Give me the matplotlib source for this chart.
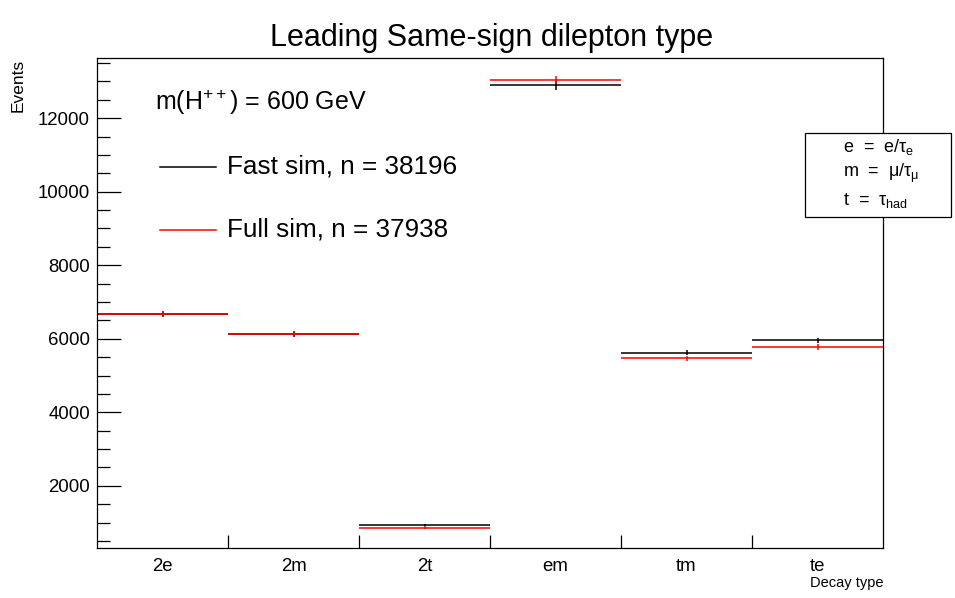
import numpy as np
import matplotlib
matplotlib.use("Agg")
import matplotlib.pyplot as plt
from matplotlib.patches import Rectangle
from matplotlib.ticker import MultipleLocator

plt.rcParams['font.family'] = ['Liberation Sans', 'DejaVu Sans']
plt.rcParams['mathtext.fontset'] = 'custom'
plt.rcParams['mathtext.rm'] = 'Liberation Sans'
plt.rcParams['mathtext.it'] = 'Liberation Sans'

categories = ["2e", "2m", "2t", "em", "tm", "te"]
fast_sim = [6672, 6128, 930, 12890, 5620, 5956]
full_sim = [6676, 6130, 866, 13030, 5466, 5770]
fast_label = "Fast sim, n = 38196"
full_label = "Full sim, n = 37938"

W, H = 955, 598
fig = plt.figure(figsize=(W / 100, H / 100), dpi=100)
L, R, T, B = 97, 883, 58, 548
ax = fig.add_axes([L / W, 1 - B / H, (R - L) / W, (B - T) / H])

n = len(categories)
edges = np.arange(n + 1)
centers = edges[:-1] + 0.5
for vals, col in [(fast_sim, 'black'), (full_sim, 'red')]:
    v = np.array(vals, dtype=float)
    err = np.sqrt(v)
    ax.hlines(v, edges[:-1], edges[1:], colors=col, linewidth=1.1)
    ax.vlines(centers, v - err, v + err, colors=col, linewidth=1.1)

ax.set_xlim(0, n)
ax.set_ylim(310, 13635)
ax.set_xticks(edges[1:-1])
ax.set_xticklabels([])
ax.set_xticks(centers, minor=True)
ax.set_xticklabels(categories, minor=True, fontsize=13.4)
ax.tick_params(axis='x', which='major', direction='in', length=9.5, width=0.9, top=False)
ax.tick_params(axis='x', which='minor', length=0, pad=7)
ax.yaxis.set_major_locator(MultipleLocator(2000))
ax.yaxis.set_minor_locator(MultipleLocator(500))
ax.tick_params(axis='y', which='major', direction='in', length=17, width=0.9, labelsize=13.4, right=False, pad=5)
ax.tick_params(axis='y', which='minor', direction='in', length=9, width=0.9, right=False)
for s in ax.spines.values():
    s.set_linewidth(0.9)

fig.text(492 / W, 1 - 38 / H, "Leading Same-sign dilepton type", ha='center', va='center', fontsize=22)
fig.text(18 / W, 1 - 59 / H, "Events", rotation=90, ha='center', va='top', fontsize=12.5)
fig.text(R / W, 1 - 583 / H, "Decay type", ha='right', va='center', fontsize=10.5)

fig.text(155 / W, 1 - 102 / H, r"m(H$^{++}$) = 600 GeV", ha='left', va='center', fontsize=18)
fig.add_artist(plt.Line2D([160 / W, 216 / W], [1 - 167 / H, 1 - 167 / H], color='black', linewidth=1.1))
fig.text(227 / W, 1 - 167 / H, fast_label, ha='left', va='center', fontsize=18.8)
fig.add_artist(plt.Line2D([160 / W, 216 / W], [1 - 230 / H, 1 - 230 / H], color='red', linewidth=1.1))
fig.text(227 / W, 1 - 230 / H, full_label, ha='left', va='center', fontsize=18.8)

bx0, by0, bx1, by1 = 805, 133, 951, 217
fig.add_artist(Rectangle((bx0 / W, 1 - by1 / H), (bx1 - bx0) / W, (by1 - by0) / H,
                         transform=fig.transFigure, facecolor='white', edgecolor='black',
                         linewidth=0.9, zorder=10))
box_lines = [r"e  =  e/$\tau_{\mathrm{e}}$", r"m  =  $\mu$/$\tau_{\mu}$", r"t  =  $\tau_{\mathrm{had}}$"]
box_y = [147, 173, 200]
for txt, yy in zip(box_lines, box_y):
    fig.text(843 / W, 1 - yy / H, txt, ha='left', va='center', fontsize=13, zorder=11)

fig.savefig("out.png", dpi=100)
